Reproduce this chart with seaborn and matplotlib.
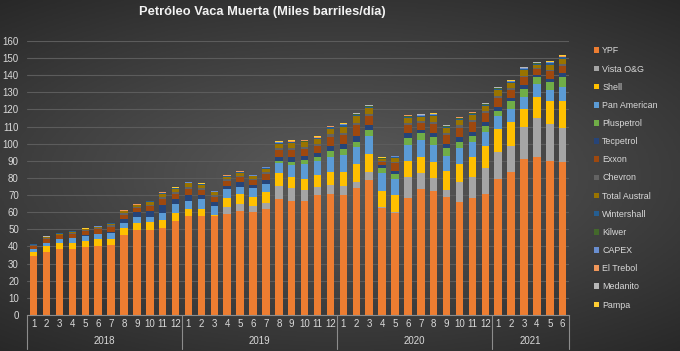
import numpy as np
import pandas as pd
import matplotlib
matplotlib.use("Agg")
import matplotlib.pyplot as plt
import matplotlib.transforms as mtransforms
from matplotlib.patches import Patch
import seaborn as sns

# months of each year shown on the category axis
years = ["2018", "2019", "2020", "2021"]
year_lengths = [12, 12, 12, 6]
months = [str(m) for n in year_lengths for m in range(1, n + 1)]

companies = ["YPF", "Vista O&G", "Shell", "Pan American", "Pluspetrol", "Tecpetrol",
             "Exxon", "Chevron", "Total Austral", "Wintershall", "Kilwer", "CAPEX",
             "El Trebol", "Medanito", "Pampa"]
colors = ["#ED7D31", "#A5A5A5", "#FFC000", "#5B9BD5", "#70AD47", "#264478",
          "#9E480E", "#636363", "#997300", "#255E91", "#43682B", "#698ED0",
          "#F1975A", "#B7B7B7", "#FFCD33"]

# miles de barriles/dia, 2018-01 .. 2021-06
ypf = [34.5, 37, 38.3, 38.5, 39.5, 40.1, 40.9, 46.7, 49.6, 49.6, 50.6, 55.1,
       57.8, 57.8, 57.8, 59, 60.9, 60.3, 61.7, 67.5, 66.6, 66.6, 70, 70.5,
       70, 74, 78.8, 62.5, 59.8, 68.1, 73.4, 72.6, 68.7, 66.2, 68.1, 70.5,
       79.4, 83.7, 91.1, 92.5, 90.1, 89.5]
vista = [0, 0, 0, 0, 0, 0, 0, 0, 0, 0, 0, 0,
         0, 0, 0, 4.3, 3.9, 3.5, 3.9, 7.8, 7.4, 6.4, 4.9, 5.4,
         5.3, 3.9, 4.9, 0.5, 0.5, 12.7, 9.3, 7.2, 4.3, 11.7, 12.3, 15.1,
         16, 15, 18.5, 22.4, 21.5, 19.5]
shell = [2.5, 3.3, 3.9, 3.3, 3.9, 4.1, 3.7, 3.9, 4.4, 4.9, 4.9, 4.3,
         4.1, 3.9, 0.8, 5.3, 5.9, 5.3, 6.4, 7.4, 6.4, 6.4, 6.9, 7.8,
         8.4, 10.3, 10.3, 9.5, 9.7, 9.1, 9.8, 9.7, 11.1, 10.3, 12.1, 13.1,
         13, 14, 10.6, 12.6, 13.1, 16]
pan_american = [1.4, 1.5, 2, 3, 2.9, 2.9, 3.5, 2.9, 3, 2.9, 4.3, 5.4,
                4.7, 5.8, 5, 4.8, 4.2, 4.9, 4.5, 6.3, 7.2, 8.8, 8.1, 8.8,
                9.7, 10.1, 10.5, 10.7, 9.7, 9.4, 9.7, 9.8, 8.7, 9.1, 8.7, 8.3,
                7.8, 7.5, 7.3, 7.2, 6.7, 8.3]
pluspetrol = [0, 0, 0, 0, 0, 0, 0, 0, 0, 0, 0, 0,
              0, 0, 0, 0, 0, 0, 0, 1.0, 1.9, 2.3, 2.5, 3.4,
              3.3, 2.9, 3.5, 2.9, 2.6, 3.9, 3.9, 4.4, 4.5, 3.9, 3.3, 3.4,
              3.1, 4.5, 4.3, 4.1, 4.4, 5.8]
tecpetrol = [0.3, 0.3, 0.3, 0.4, 0.4, 0.4, 0.6, 2.5, 3, 3.5, 4.5, 3,
             3.5, 2.5, 2.5, 2, 2.5, 2, 2.5, 2.5, 2.5, 2.3, 2.3, 2.8,
             3, 3.2, 2.8, 1.2, 2, 2.8, 2.2, 2.8, 2.6, 2.8, 2.5, 2.4,
             2.2, 2, 2.3, 1.6, 2.1, 2.2]
exxon = [1.5, 2.2, 2, 2.2, 2.1, 2.5, 2.8, 2.5, 2.3, 2.8, 3.5, 3,
         3.5, 3, 3, 3, 3.2, 2.7, 3.5, 4, 4.5, 4.2, 4.2, 5.5,
         5.5, 6.3, 5.5, 1.8, 4.2, 4.8, 4, 5.2, 5, 5.4, 5.5, 5,
         5.2, 4.5, 4.6, 3, 4.3, 4.2]
chevron = [0.5, 0.6, 0.5, 0.6, 0.6, 0.7, 0.8, 0.8, 0.7, 0.8, 1, 0.9,
           1, 0.9, 0.9, 0.8, 0.8, 0.7, 0.9, 1, 1, 1, 1, 1.2,
           1.3, 1.5, 1.3, 0.6, 1, 1.2, 1, 1.2, 1.2, 1.3, 1.2, 1.2,
           1.2, 1.1, 1.1, 0.8, 1.1, 1.1]
total_austral = [0.4, 0.5, 0.5, 0.6, 0.6, 0.7, 0.9, 1.2, 1, 1.4, 2.1, 1.9,
                 2.2, 2, 1.6, 1.6, 1.7, 1.5, 2.1, 2.5, 2.8, 2.8, 2.8, 3.4,
                 3.5, 3.8, 3.2, 1.2, 2.3, 3.1, 2.4, 3.2, 3.2, 3.3, 3.2, 3.1,
                 3.4, 3, 3.1, 1.9, 2.9, 3]
wintershall = [0.1, 0.2, 0.2, 0.2, 0.2, 0.2, 0.3, 0.3, 0.3, 0.4, 0.4, 0.4,
               0.4, 0.4, 0.4, 0.4, 0.4, 0.4, 0.4, 0.5, 0.6, 0.5, 0.5, 0.7,
               0.8, 0.9, 0.8, 0.4, 0.5, 0.7, 0.5, 0.6, 0.6, 0.7, 0.7, 0.7,
               0.8, 0.7, 0.8, 0.6, 0.8, 0.8]
kilwer = [0, 0, 0, 0, 0, 0, 0, 0.1, 0.1, 0.1, 0.1, 0.1,
          0.1, 0.1, 0.1, 0.1, 0.1, 0.1, 0.1, 0.2, 0.2, 0.2, 0.2, 0.2,
          0.2, 0.2, 0.2, 0.1, 0.1, 0.2, 0.2, 0.2, 0.2, 0.2, 0.2, 0.2,
          0.2, 0.2, 0.2, 0.2, 0.2, 0.2]
capex = [0.1, 0.1, 0.1, 0.1, 0.1, 0.1, 0.1, 0.1, 0.1, 0.1, 0.1, 0.1,
         0.1, 0.1, 0.1, 0.1, 0.1, 0.1, 0.2, 0.2, 0.2, 0.2, 0.2, 0.2,
         0.3, 0.3, 0.3, 0.2, 0.2, 0.3, 0.3, 0.3, 0.3, 0.3, 0.3, 0.3,
         0.3, 0.3, 0.3, 0.3, 0.3, 0.3]
el_trebol = [0.1, 0.1, 0.1, 0.1, 0.1, 0.1, 0.1, 0.1, 0.1, 0.1, 0.1, 0.1,
             0.1, 0.1, 0.1, 0.1, 0.1, 0.1, 0.1, 0.2, 0.2, 0.2, 0.2, 0.2,
             0.2, 0.2, 0.2, 0.1, 0.1, 0.2, 0.2, 0.2, 0.2, 0.2, 0.2, 0.2,
             0.2, 0.2, 0.2, 0.2, 0.2, 0.2]
medanito = [0.1, 0.1, 0.1, 0.1, 0.1, 0.1, 0.1, 0.1, 0.1, 0.1, 0.1, 0.1,
            0.1, 0.1, 0.1, 0.1, 0.1, 0.1, 0.2, 0.2, 0.2, 0.2, 0.2, 0.2,
            0.2, 0.2, 0.2, 0.1, 0.1, 0.2, 0.2, 0.2, 0.2, 0.2, 0.2, 0.2,
            0.2, 0.2, 0.2, 0.2, 0.2, 0.2]
pampa = [0.1, 0.1, 0.1, 0.1, 0.1, 0.1, 0.1, 0.1, 0.1, 0.1, 0.1, 0.2,
         0.2, 0.2, 0.2, 0.2, 0.2, 0.2, 0.2, 0.3, 0.3, 0.3, 0.3, 0.3,
         0.3, 0.3, 0.3, 0.2, 0.2, 0.3, 0.3, 0.3, 0.3, 0.3, 0.3, 0.3,
         0.4, 0.4, 0.4, 0.4, 0.4, 0.4]

series = [ypf, vista, shell, pan_american, pluspetrol, tecpetrol, exxon, chevron,
          total_austral, wintershall, kilwer, capex, el_trebol, medanito, pampa]

df = pd.DataFrame(dict(zip(companies, series)))
cum = df.cumsum(axis=1)
pos = np.arange(len(months))

sns.set_theme(style="dark")
plt.rcParams["font.family"] = ["Liberation Sans Narrow", "Liberation Sans", "DejaVu Sans"]

text_col = "#d9d9d9"
fig = plt.figure(figsize=(6.8, 3.51), dpi=100)

# dark radial background like the Excel chart style
bg = fig.add_axes([0, 0, 1, 1], zorder=-10)
yy, xx = np.mgrid[-1:1:200j, -1:1:400j]
rad = np.sqrt((xx * 0.9) ** 2 + (yy * 1.1) ** 2)
bg.imshow(-rad, cmap=sns.dark_palette("#5a5a5a", as_cmap=True), aspect="auto",
          vmin=-1.5, vmax=-0.05, extent=[0, 1, 0, 1])
bg.set_axis_off()

ax = fig.add_axes([0.04, 0.1026, 0.797, 0.7806])
ax.set_facecolor("none")

# stacked bars: draw cumulative totals from top layer down
for i in reversed(range(len(companies))):
    sns.barplot(x=pos, y=cum.iloc[:, i].values, color=colors[i], width=0.58,
                saturation=1, errorbar=None, linewidth=0, ax=ax)

ax.set_ylim(0, 160)
ax.set_xlim(-0.5, len(months) - 0.5)
ax.set_yticks(range(0, 161, 10))
ax.yaxis.grid(True, color="#5c5c5c", linewidth=0.8)
ax.set_axisbelow(True)
ax.set_xticks(pos)
ax.set_xticklabels(months)
ax.tick_params(axis="x", colors=text_col, labelsize=7, length=0, pad=3)
ax.tick_params(axis="y", colors=text_col, labelsize=7, length=0, pad=6)
ax.set_xlabel("")
ax.set_ylabel("")
for side in ["top", "right", "left"]:
    ax.spines[side].set_visible(False)
ax.spines["bottom"].set_color("#8c8c8c")
ax.spines["bottom"].set_linewidth(0.8)

# year grouping under the month numbers
trans = mtransforms.blended_transform_factory(ax.transData, ax.transAxes)
start = 0
edges = [-0.5]
for year, n in zip(years, year_lengths):
    ax.text(start + (n - 1) / 2, -0.095, year, transform=trans, ha="center",
            va="center", color=text_col, fontsize=7)
    start += n
    edges.append(start - 0.5)
for e in edges:
    ax.plot([e, e], [0, -0.125], transform=trans, color="#8c8c8c",
            linewidth=0.8, clip_on=False)

fig.text(0.386, 0.965, "Petróleo Vaca Muerta (Miles barriles/día)", ha="center",
         va="center", color="#f2f2f2", fontsize=9.3, fontweight="bold")

handles = [Patch(facecolor=c, edgecolor="none", label=n) for n, c in zip(companies, colors)]
leg = fig.legend(handles=handles, loc="upper left", bbox_to_anchor=(0.868, 0.878),
                 frameon=False, fontsize=6.4, labelcolor=text_col, handlelength=0.6,
                 handleheight=0.6, handletextpad=0.35, labelspacing=1.03,
                 borderaxespad=0)

fig.savefig("out.png", dpi=100, facecolor="#3c3c3c")
